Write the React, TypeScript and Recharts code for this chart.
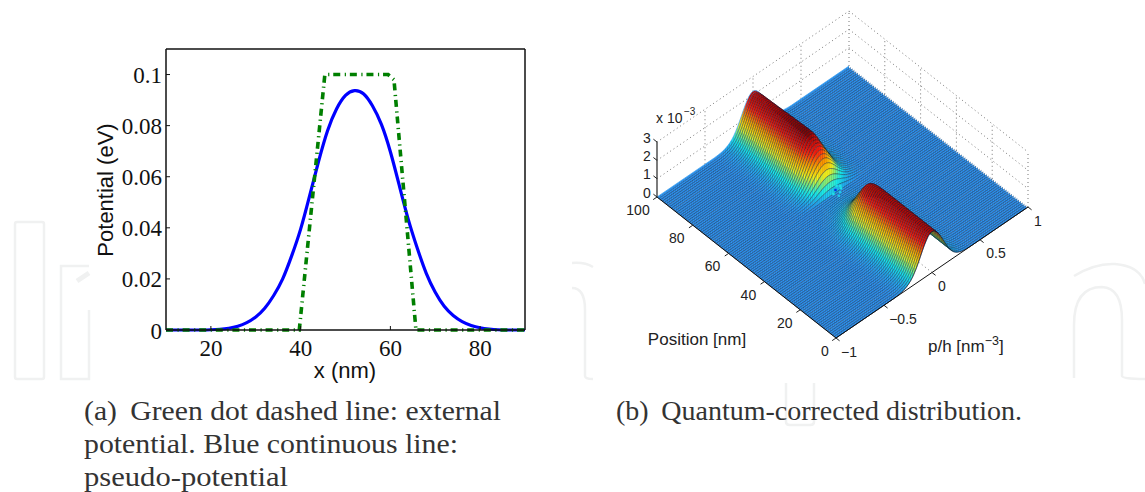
import React from "react";
import { ComposedChart, Line, Area, Scatter, XAxis, YAxis } from "recharts";

const W = 1145;
const H = 492;

// left panel
const xTicks = [20, 40, 60, 80];
const yTicks = [0, 0.02, 0.04, 0.06, 0.08, 0.1];
const blueX = [10, 12, 14, 16, 18, 20, 22, 24, 26, 28, 30, 32, 34, 36, 38, 40, 42, 44, 46, 48, 50, 52, 54, 56, 58, 60, 62, 64, 66, 68, 70, 72, 74, 76, 78, 80, 82, 84, 86, 88, 90];
const blueY = [0, 0, 0, 0, 0, 0.0001, 0.0003, 0.0007, 0.0015, 0.0029, 0.0051, 0.0085, 0.0135, 0.02, 0.029, 0.0395, 0.0525, 0.066, 0.078, 0.0865, 0.0918, 0.0937, 0.0925, 0.0878, 0.0805, 0.0698, 0.0565, 0.0432, 0.032, 0.0222, 0.0148, 0.0093, 0.0057, 0.0033, 0.0018, 0.0009, 0.0004, 0.0001, 0, 0, 0];
const greenX = [10, 39.7, 45.4, 59.5, 60.8, 65.7, 90];
const greenY = [0, 0, 0.1, 0.1, 0.098, 0, 0];

// right panel: ridge profile across p, ridge height (x 10^-3) along position 0..100
const profileP = [-1, -0.98, -0.4, -0.38, -0.36, -0.34, -0.32, -0.3, -0.28, -0.26, -0.24, -0.22, -0.2, -0.18, -0.16, -0.14, -0.12, -0.1, -0.08, -0.06, -0.04, -0.02, 0, 0.02, 0.04, 0.06, 0.08, 0.1, 0.12, 0.14, 0.16, 0.18, 0.2, 0.22, 0.24, 0.26, 0.28, 0.3, 0.32, 0.34, 0.36, 0.38, 0.4, 1];
const profileZ = [0, 0, 0, 0.003, 0.007, 0.013, 0.022, 0.035, 0.055, 0.08, 0.115, 0.16, 0.22, 0.295, 0.38, 0.48, 0.585, 0.69, 0.79, 0.875, 0.945, 0.985, 1, 0.985, 0.945, 0.875, 0.79, 0.69, 0.585, 0.48, 0.38, 0.295, 0.22, 0.16, 0.115, 0.08, 0.055, 0.035, 0.022, 0.013, 0.007, 0.003, 0, 0];
const rowHeights = [
  2.24, 2.24, 2.24, 2.24, 2.24, 2.24, 2.24, 2.24, 2.24, 2.24,
  2.24, 2.24, 2.24, 2.24, 2.24, 2.24, 2.24, 2.24, 2.24, 2.24,
  2.24, 2.24, 2.24, 2.24, 2.24, 2.24, 2.24, 2.24, 2.24, 2.24,
  2.24, 2.23, 2.22, 2.2, 2.18, 2.12, 2.05, 1.92, 1.72, 1.52,
  1.3, 1.08, 0.88, 0.7, 0.54, 0.42, 0.32, 0.24, 0.18, 0.14,
  0.12, 0.09, 0.07, 0.06, 0.05, 0.05, 0.3, 0.55, 0.8, 1.05,
  1.3, 1.5, 1.66, 1.8, 1.93, 2.03, 2.12, 2.2, 2.3, 2.35,
  2.36, 2.36, 2.36, 2.35, 2.35, 2.34, 2.34, 2.33, 2.33, 2.32,
  2.32, 2.31, 2.3, 2.3, 2.29, 2.28, 2.28, 2.27, 2.26, 2.26,
  2.25, 2.25, 2.24, 2.24, 2.23, 2.23, 2.22, 2.22, 2.21, 2.2, 2.2,
];
const speckPos = [55, 56, 54, 53, 55, 52, 54];
const speckP = [0.02, 0.05, -0.02, 0.03, 0.07, 0, 0.06];
const speckZ = [0.2, 0.25, 0.2, 0.2, 0.25, 0.18, 0.22];
const speckColor = ["#0a30e0", "#20e0e8", "#20e0e8", "#20c8e8", "#20e0e8", "#20c8e8", "#20e0e8"];

const positionTicks = [0, 20, 40, 60, 80, 100];
const pTicks = [-1, -0.5, 0, 0.5, 1];
const zTicks = [0, 1, 2, 3];

const colorZ = [0, 0.14, 0.45, 0.75, 1.05, 1.45, 1.85, 2.25, 2.45];
const colorHex = ["#3096f4", "#24aaf0", "#18f0f0", "#80f080", "#fcf418", "#ffa400", "#ff2010", "#b00808", "#500404"];

const captions = [
  { text: "(a)\u00a0\u2009Green dot dashed line: external", x: 84, y: 420, w: 417 },
  { text: "potential. Blue continuous line:", x: 84, y: 453, w: 374 },
  { text: "pseudo-potential", x: 84, y: 486, w: 204 },
  { text: "(b)\u00a0\u2009Quantum-corrected distribution.", x: 616, y: 420, w: 406 },
];

// view used by the 3D panel, result is page pixels
const project = (pos: number, p: number, z: number) => ({
  sx: 836 + 96 * (p + 1) - 1.79 * pos,
  sy: 338 - 65.5 * (p + 1) - 1.41 * pos - 18.33 * z,
});

const profileAt = (p: number) => {
  for (let j = 1; j < profileP.length; j++) {
    if (p <= profileP[j]) {
      const f = (p - profileP[j - 1]) / (profileP[j] - profileP[j - 1]);
      return profileZ[j - 1] + f * (profileZ[j] - profileZ[j - 1]);
    }
  }
  return 0;
};

const hexToRgb = (c: string) => [1, 3, 5].map((i) => parseInt(c.slice(i, i + 2), 16));
const colorFor = (z: number, shade: number) => {
  let j = 1;
  while (j < colorZ.length - 1 && z > colorZ[j]) j++;
  const f = Math.min(1, Math.max(0, (z - colorZ[j - 1]) / (colorZ[j] - colorZ[j - 1])));
  const a = hexToRgb(colorHex[j - 1]);
  const b = hexToRgb(colorHex[j]);
  return `rgb(${a.map((v, i) => Math.round((v + f * (b[i] - v)) * shade)).join(",")})`;
};

const rowShift = 1.79 / 96;
const rows = rowHeights
  .map((h, pos) => ({
    pos,
    points: profileP.map((p) => {
      const top = project(pos, p, h * profileAt(p));
      let low = top.sy;
      if (pos > 0 && p - rowShift >= -1) {
        low = project(pos - 1, p - rowShift, rowHeights[pos - 1] * profileAt(p - rowShift)).sy;
      }
      return { sx: top.sx, band: [low, top.sy] };
    }),
  }))
  .reverse();

// mesh cells across p, light/dark pair per cell
const meshCells = 100;
const rowStops = (h: number) => {
  const stops: { offset: number; color: string }[] = [];
  for (let k = 0; k < meshCells; k++) {
    const z = h * profileAt(-1 + (2 * (k + 0.5)) / meshCells);
    stops.push({ offset: (k + 0.25) / meshCells, color: colorFor(z, 1) });
    stops.push({ offset: (k + 0.75) / meshCells, color: colorFor(z, 0.88) });
  }
  return stops;
};

const seg = (a: [number, number, number], b: [number, number, number]) => [project(...a), project(...b)];

const wallLines = [
  ...zTicks.slice(1).flatMap((z) => [seg([100, -1, z], [100, 1, z]), seg([100, 1, z], [0, 1, z])]),
  ...pTicks.slice(1).map((p) => seg([100, p, 0], [100, p, 3])),
  ...positionTicks.slice(0, 5).map((pos) => seg([pos, 1, 0], [pos, 1, 3])),
  ...pTicks.slice(1, 4).map((p) => seg([0, p, 0], [100, p, 0])),
  ...positionTicks.slice(1, 5).map((pos) => seg([pos, -1, 0], [pos, 1, 0])),
];

const axisLines = [
  seg([100, -1, 0], [100, -1, 3]),
  seg([100, -1, 0], [0, -1, 0]),
  seg([0, -1, 0], [0, 1, 0]),
];

const tickMark = (a: [number, number, number], b: [number, number, number]) => {
  const s = project(...a);
  const e = project(...b);
  return { ...s, dx: e.sx - s.sx, dy: e.sy - s.sy };
};
const tickMarks = [
  ...zTicks.map((z) => tickMark([100, -1, z], [102, -1, z])),
  ...positionTicks.map((pos) => tickMark([pos, -1, 0], [pos, -1.04, 0])),
  ...pTicks.map((p) => tickMark([0, p, 0], [-2, p, 0])),
];

const fmtP = (p: number) => String(p).replace("-", "\u2212");
const positionLabelDx = [-11, -15.5, -16, -16, -16, -19];
const pLabelDx = [13, 19, 10, 16, 10];
const tickLabels = [
  ...zTicks.map((z) => ({ ...project(100, -1, z), text: String(z), dx: -10, dy: -4.5 })),
  ...positionTicks.map((pos, i) => ({ ...project(pos, -1, 0), text: String(pos), dx: positionLabelDx[i], dy: 13 })),
  ...pTicks.map((p, i) => ({ ...project(0, p, 0), text: fmtP(p), dx: pLabelDx[i], dy: 13.5 })),
];
const specks = speckPos.map((pos, i) => ({ ...project(pos, speckP[i], speckZ[i]), color: speckColor[i] }));

const LabelShape = (props: any) => (
  <text
    x={props.cx + props.payload.dx}
    y={props.cy + props.payload.dy}
    textAnchor="middle"
    dominantBaseline="central"
    fontFamily="Liberation Sans"
    fontSize={14}
    fill="#222"
  >
    {props.payload.text}
  </text>
);
const TickShape = (props: any) => (
  <line x1={props.cx} y1={props.cy} x2={props.cx + props.payload.dx} y2={props.cy + props.payload.dy} stroke="#222" strokeWidth={1} />
);
const SpeckShape = (props: any) => (
  <rect x={props.cx - 1.2} y={props.cy - 1.2} width={2.4} height={2.4} fill={props.payload.color} />
);

const serif = "Liberation Serif";
const sans = "Liberation Sans";

const BottomTick = (props: any) => (
  <g>
    <line x1={props.x} x2={props.x} y1={props.y} y2={props.y - 4} stroke="#111" />
    <text x={props.x} y={props.y + 18} textAnchor="middle" dominantBaseline="central" fontFamily={serif} fontSize={23} fill="#111">
      {props.payload.value}
    </text>
  </g>
);
const TopTick = (props: any) => <line x1={props.x} x2={props.x} y1={props.y} y2={props.y + 4} stroke="#111" />;
const LeftTick = (props: any) => (
  <g>
    <line x1={props.x} x2={props.x + 4} y1={props.y} y2={props.y} stroke="#111" />
    <text x={props.x - 4} y={props.y + 1} textAnchor="end" dominantBaseline="central" fontFamily={serif} fontSize={23} fill="#111">
      {props.payload.value}
    </text>
  </g>
);
const RightTick = (props: any) => <line x1={props.x} x2={props.x - 4} y1={props.y} y2={props.y} stroke="#111" />;

function Watermark() {
  const stroke = { fill: "none", stroke: "#f0f1f1", strokeWidth: 2.5 };
  return (
    <svg width={W} height={H} style={{ position: "absolute", left: 0, top: 0 }}>
      <rect x={15} y={222} width={29} height={157} rx={2} {...stroke} />
      <path d="M89,266 H61 V379 H89 V310" {...stroke} />
      <path d="M77,281 L89,273" {...stroke} strokeWidth={5} />
      <path d="M572,263 Q585,262 593,267" {...stroke} />
      <path d="M572,288 Q585,288 585,310 V376 Q585,379 593,379" {...stroke} />
      <path d="M1074,276 Q1095,263 1115,264 Q1140,266 1145,284" {...stroke} />
      <path d="M1074,378 V325 Q1074,287 1102,287 Q1122,288 1122,320 V376 Q1122,379 1145,379" {...stroke} />
      <path d="M786,383 V422 Q786,425 790,425 H810 Q814,425 814,422 V383" {...stroke} />
    </svg>
  );
}

function LeftPlot() {
  const blue = blueX.map((x, i) => ({ x, y: blueY[i] }));
  const green = greenX.map((x, i) => ({ x, y: greenY[i] }));
  const axisLine = { stroke: "#111", strokeWidth: 1.5 };
  return (
    <ComposedChart width={W} height={H} margin={{ left: 165, top: 48, right: 619, bottom: 161 }} style={{ position: "absolute", left: 0, top: 0 }}>
      <XAxis xAxisId="b" dataKey="x" type="number" domain={[10, 90]} ticks={xTicks} interval={0} height={1} tickSize={0} tickMargin={0} tickLine={false} axisLine={axisLine} tick={BottomTick} />
      <XAxis xAxisId="t" orientation="top" type="number" domain={[10, 90]} ticks={xTicks} interval={0} height={1} tickSize={0} tickMargin={0} tickLine={false} axisLine={axisLine} tick={TopTick} />
      <YAxis yAxisId="l" type="number" domain={[0, 0.11]} ticks={yTicks} interval={0} width={1} tickSize={0} tickMargin={0} tickLine={false} axisLine={axisLine} tick={LeftTick} />
      <YAxis yAxisId="r" orientation="right" type="number" domain={[0, 0.11]} ticks={yTicks} interval={0} width={1} tickSize={0} tickMargin={0} tickLine={false} axisLine={axisLine} tick={RightTick} />
      <Line xAxisId="b" yAxisId="l" data={blue} dataKey="y" type="natural" stroke="#0000ff" strokeWidth={3.2} dot={false} activeDot={false} isAnimationActive={false} />
      <Line xAxisId="b" yAxisId="l" data={green} dataKey="y" type="linear" stroke="#007f00" strokeWidth={3.6} strokeDasharray="7 4.5 1.2 3.9" dot={false} activeDot={false} isAnimationActive={false} />
      <text x={345} y={370} textAnchor="middle" dominantBaseline="central" fontFamily={sans} fontSize={22} fill="#111">x (nm)</text>
      <text transform="translate(105,190) rotate(-90)" textAnchor="middle" dominantBaseline="central" fontFamily={sans} fontSize={22} fill="#111">Potential (eV)</text>
      {captions.map((c) => (
        <text key={c.text} x={c.x} y={c.y} textLength={c.w} lengthAdjust="spacingAndGlyphs" fontFamily={serif} fontSize={27} fill="#333">
          {c.text}
        </text>
      ))}
    </ComposedChart>
  );
}

const pageAxes = [
  <XAxis key="x" hide dataKey="sx" type="number" domain={[0, W]} allowDataOverflow />,
  <YAxis key="y" hide reversed type="number" domain={[0, H]} allowDataOverflow />,
];
const noMargin = { left: 0, top: 0, right: 0, bottom: 0 };

function WallGrid() {
  return (
    <ComposedChart width={W} height={H} margin={noMargin} style={{ position: "absolute", left: 0, top: 0 }}>
      {pageAxes}
      {wallLines.map((d, i) => (
        <Line key={i} data={d} dataKey="sy" stroke="#777" strokeWidth={1} strokeDasharray="1 3" dot={false} activeDot={false} isAnimationActive={false} />
      ))}
    </ComposedChart>
  );
}

function Surface() {
  return (
    <ComposedChart width={W} height={H} margin={noMargin} style={{ position: "absolute", left: 0, top: 0 }}>
      <defs>
        {rows.map((r) => (
          <linearGradient key={r.pos} id={`row${r.pos}`} x1="0" x2="1" y1="0" y2="0">
            {rowStops(rowHeights[r.pos]).map((s, j) => (
              <stop key={j} offset={s.offset} stopColor={s.color} />
            ))}
          </linearGradient>
        ))}
      </defs>
      {pageAxes}
      {rows.map((r) => (
        <Area
          key={r.pos}
          data={r.points}
          dataKey="band"
          type="linear"
          fill={`url(#row${r.pos})`}
          fillOpacity={1}
          stroke={r.pos === 100 ? "#3aa0f0" : "#001030"}
          strokeWidth={0.7}
          strokeOpacity={r.pos === 100 ? 1 : 0.5}
          dot={false}
          activeDot={false}
          isAnimationActive={false}
        />
      ))}
      {axisLines.map((d, i) => (
        <Line key={`a${i}`} data={d} dataKey="sy" stroke={i === 0 ? "#444" : "#111"} strokeWidth={i === 0 ? 1.4 : 1} dot={false} activeDot={false} isAnimationActive={false} />
      ))}
      <Scatter data={tickMarks} dataKey="sy" shape={TickShape} fill="none" isAnimationActive={false} />
      <Scatter data={tickLabels} dataKey="sy" shape={LabelShape} fill="none" isAnimationActive={false} />
      <Scatter data={specks} dataKey="sy" shape={SpeckShape} fill="none" isAnimationActive={false} />
      <text x={656} y={123} fontFamily={sans} fontSize={14} fill="#222">x 10</text>
      <text x={684} y={115} fontFamily={sans} fontSize={10} fill="#222">{"\u22123"}</text>
      <text x={697} y={339} textAnchor="middle" dominantBaseline="central" fontFamily={sans} fontSize={17} fill="#222">Position [nm]</text>
      <text x={928} y={352} fontFamily={sans} fontSize={17} fill="#222">
        p/h [nm
        <tspan fontSize={12.5} dy={-7}>{"\u22123"}</tspan>
        <tspan dy={7}>]</tspan>
      </text>
    </ComposedChart>
  );
}

export default function App() {
  return (
    <div style={{ position: "absolute", left: 0, top: 0, width: W, height: H, background: "#fff", overflow: "hidden" }}>
      <Watermark />
      <LeftPlot />
      <WallGrid />
      <Surface />
    </div>
  );
}
